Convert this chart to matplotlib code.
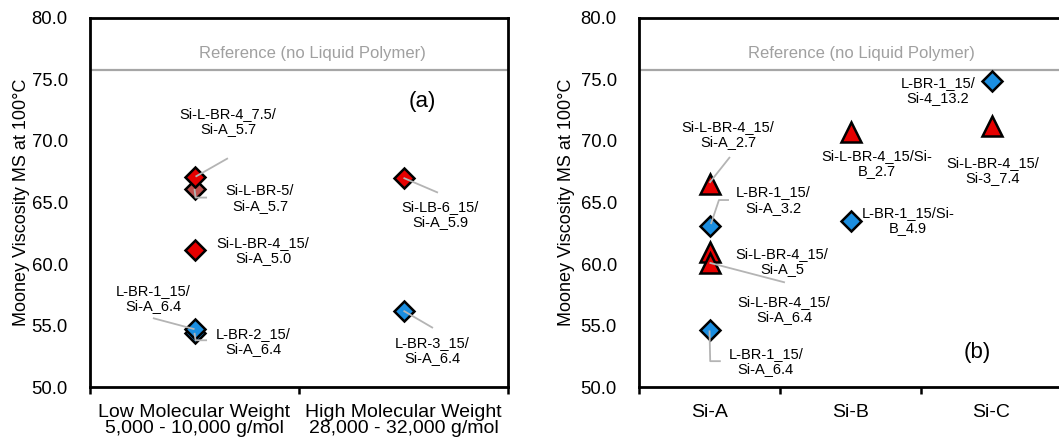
import matplotlib
matplotlib.use("Agg")
import matplotlib.pyplot as plt
from matplotlib.ticker import FixedLocator, NullFormatter

plt.rcParams['font.family'] = ['Liberation Sans', 'DejaVu Sans']

# ---------------- data ----------------
left_categories = ['Low Molecular Weight\n5,000 - 10,000 g/mol',
                   'High Molecular Weight\n28,000 - 32,000 g/mol']
left_names = ['Si-L-BR-5/\nSi-A_5.7', 'Si-L-BR-4_7.5/\nSi-A_5.7', 'Si-L-BR-4_15/\nSi-A_5.0',
              'L-BR-2_15/\nSi-A_6.4', 'L-BR-1_15/\nSi-A_6.4',
              'Si-LB-6_15/\nSi-A_5.9', 'L-BR-3_15/\nSi-A_6.4']
left_cat = [0, 0, 0, 0, 0, 1, 1]
left_values = [66.1, 67.1, 61.1, 54.4, 54.7, 67.0, 56.2]
left_kind = ['muted', 'red', 'red', 'blue', 'blue', 'red', 'blue']

right_categories = ['Si-A', 'Si-B', 'Si-C']
right_names = ['Si-L-BR-4_15/\nSi-A_2.7', 'L-BR-1_15/\nSi-A_3.2', 'Si-L-BR-4_15/\nSi-A_5',
               'Si-L-BR-4_15/\nSi-A_6.4', 'L-BR-1_15/\nSi-A_6.4',
               'Si-L-BR-4_15/Si-\nB_2.7', 'L-BR-1_15/Si-\nB_4.9',
               'L-BR-1_15/\nSi-4_13.2', 'Si-L-BR-4_15/\nSi-3_7.4']
right_cat = [0, 0, 0, 0, 0, 1, 1, 2, 2]
right_values = [66.5, 63.1, 61.0, 60.1, 54.6, 70.7, 63.5, 74.9, 71.2]
right_kind = ['tri', 'dia', 'tri', 'tri', 'dia', 'tri', 'dia', 'dia', 'tri']

reference_value = 75.8
reference_text = 'Reference (no Liquid Polymer)'
ylabel = 'Mooney Viscosity MS at 100\u00b0C'

# label placement (data coordinates) and leader lines
left_label_pos = [(0.313, 65.3), (0.160, 71.6), (0.328, 61.1),
                  (0.280, 53.7), (-0.199, 57.2), (1.175, 64.0), (1.136, 53.0)]
left_leaders = [[(0.0, 66.1), (0.005, 65.4), (0.06, 65.4)],
                [(0.005, 67.1), (0.160, 68.6)],
                None,
                [(0.0, 54.4), (0.005, 53.8), (0.06, 53.8)],
                [(0.0, 54.7), (-0.199, 55.6)],
                [(1.0, 67.0), (1.165, 65.8)],
                [(1.0, 56.2), (1.141, 54.8)]]
right_label_pos = [(0.131, 70.5), (0.45, 65.2), (0.514, 60.2), (0.528, 56.3),
                   (0.40, 52.1), (1.188, 68.2), (1.408, 63.5), (1.62, 74.1), (2.01, 67.6)]
right_leaders = [[(0.0, 66.6), (0.145, 68.7)],
                 [(0.01, 63.25), (0.067, 65.2), (0.138, 65.2)],
                 None,
                 [(0.0, 60.1), (0.535, 58.5)],
                 [(0.0, 54.6), (0.005, 52.1), (0.08, 52.1)],
                 None, None, None, None]

# ---------------- style ----------------
RED = '#e60000'
MUTED = '#c0504d'
BLUE = '#1b8ee0'
GRAY_LINE = '#a6a6a6'
LEADER = '#b4b4b4'
TEXT_GRAY = '#a0a0a0'

fig = plt.figure(figsize=(10.59, 4.40), dpi=100)
H = 1 - 18 / 440
B = 1 - 387 / 440
ax1 = fig.add_axes([90 / 1059, B, 418 / 1059, H - B])
ax2 = fig.add_axes([639 / 1059, B, 423 / 1059, H - B])


def style_axes(ax, ncat, cats):
    ax.set_xlim(-0.5, ncat - 0.5)
    ax.set_ylim(50, 80)
    ax.set_yticks([50, 55, 60, 65, 70, 75, 80])
    ax.set_yticklabels([f'{v:.1f}' for v in [50, 55, 60, 65, 70, 75, 80]])
    ax.tick_params(axis='y', length=0, pad=16, labelsize=13.3)
    ax.xaxis.set_major_locator(FixedLocator([i - 0.5 for i in range(ncat + 1)]))
    ax.xaxis.set_major_formatter(NullFormatter())
    ax.xaxis.set_minor_locator(FixedLocator(list(range(ncat))))
    ax.set_xticklabels(cats, minor=True, linespacing=0.92)
    ax.tick_params(axis='x', which='major', direction='out', length=5, width=1.8)
    ax.tick_params(axis='x', which='minor', length=0, pad=12, labelsize=14)
    for s in ax.spines.values():
        s.set_linewidth(2.0)
        s.set_color('black')
    ax.axhline(reference_value, color=GRAY_LINE, lw=1.6, zorder=1)
    ax.set_ylabel(ylabel, fontsize=13)


style_axes(ax1, 2, left_categories)
style_axes(ax2, 3, right_categories)
ax1.yaxis.set_label_coords(-0.143, 0.5)
ax2.yaxis.set_label_coords(-0.151, 0.5)

# left panel markers
colmap = {'red': RED, 'muted': MUTED, 'blue': BLUE}
for c, v, k in zip(left_cat, left_values, left_kind):
    ax1.plot(c, v, marker='D', ms=10.5, mfc=colmap[k], mec='black', mew=1.8,
             ls='none', zorder=3)
for name, pos, lead in zip(left_names, left_label_pos, left_leaders):
    ax1.text(pos[0], pos[1], name, ha='center', va='center', fontsize=10.5,
             linespacing=1.1, zorder=5)
    if lead:
        xs, ys = zip(*lead)
        ax1.plot(xs, ys, color=LEADER, lw=1.3, zorder=4, solid_capstyle='butt')

# right panel markers
for c, v, k in zip(right_cat, right_values, right_kind):
    if k == 'tri':
        ax2.plot(c, v, marker='^', ms=14, mfc=RED, mec='black', mew=1.8,
                 ls='none', zorder=3)
    else:
        ax2.plot(c, v, marker='D', ms=10.5, mfc=BLUE, mec='black', mew=1.8,
                 ls='none', zorder=3)
for name, pos, lead in zip(right_names, right_label_pos, right_leaders):
    ax2.text(pos[0], pos[1], name, ha='center', va='center', fontsize=10.5,
             linespacing=1.1, zorder=5)
    if lead:
        xs, ys = zip(*lead)
        ax2.plot(xs, ys, color=LEADER, lw=1.3, zorder=4, solid_capstyle='butt')

# reference texts and panel tags
ax1.text(0.562, 77.15, reference_text, ha='center', va='center', fontsize=12,
         color=TEXT_GRAY)
ax2.text(1.08, 77.15, reference_text, ha='center', va='center', fontsize=12,
         color=TEXT_GRAY)
ax1.text(1.089, 73.2, '(a)', ha='center', va='center', fontsize=16)
ax2.text(1.897, 52.8, '(b)', ha='center', va='center', fontsize=16)

fig.savefig('out.png', dpi=100)
